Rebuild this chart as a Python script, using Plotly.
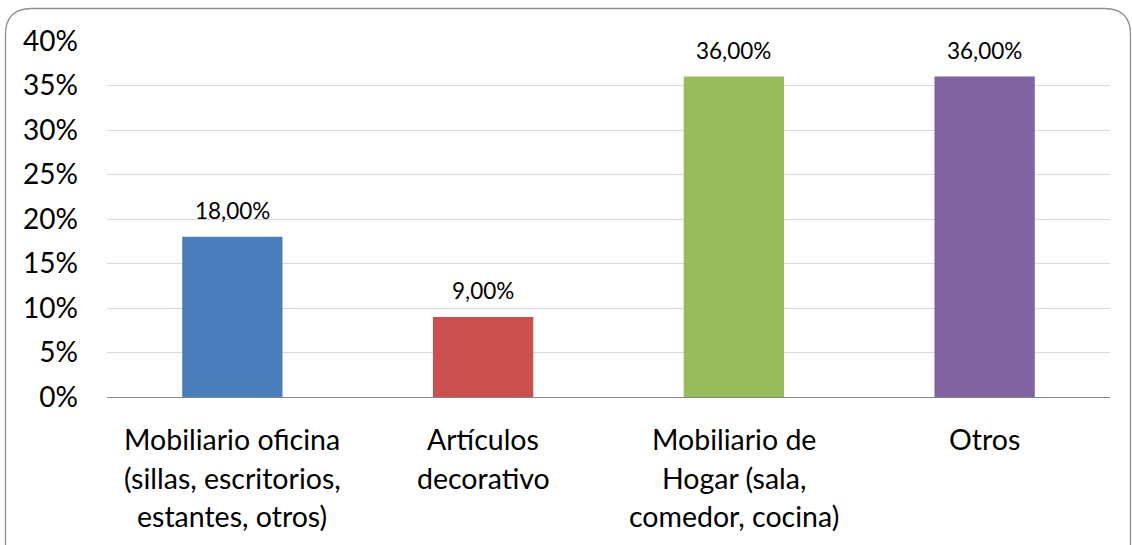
import plotly.graph_objects as go

# Chart data
categories = [
    "Mobiliario oficina<br>(sillas, escritorios,<br>estantes, otros)",
    "Artículos<br>decorativo",
    "Mobiliario de<br>Hogar (sala,<br>comedor, cocina)",
    "Otros",
]
shares = [0.18, 0.09, 0.36, 0.36]
bar_colors = ["#4A7EBB", "#C9504D", "#98BB5B", "#8064A1"]
y_ticks = [0, 0.05, 0.10, 0.15, 0.20, 0.25, 0.30, 0.35, 0.40]

FONT = "Lato"
W, H = 1132, 545
M_L, M_R, M_T, M_B = 107, 22, 41, 148

x_pos = list(range(len(categories)))

fig = go.Figure()
fig.add_trace(go.Bar(
    x=x_pos,
    y=shares,
    marker=dict(color=bar_colors, line=dict(width=0)),
    width=0.4,
    hoverinfo="skip",
))

annotations = []
# value labels above the bars
for xi, v in zip(x_pos, shares):
    annotations.append(dict(
        x=xi, y=v, xref="x", yref="y",
        text=f"{v * 100:.2f}%".replace(".", ","),
        showarrow=False, yanchor="bottom", yshift=11,
        font=dict(family=FONT, size=22.5, color="#000000"),
    ))

# category labels, one annotation per line for Excel-like line spacing
line_step = 38.5
for xi, cat in zip(x_pos, categories):
    for k, line in enumerate(cat.split("<br>")):
        annotations.append(dict(
            x=xi, y=0, xref="x", yref="paper",
            text=line, showarrow=False, yanchor="middle",
            yshift=-42 - k * line_step,
            font=dict(family=FONT, size=28.5, color="#000000"),
        ))

# rounded outer frame, expressed in paper units of the plot area
pw = W - M_L - M_R
ph = H - M_T - M_B
def px(x):
    return (x - M_L) / pw
def py(y):
    return 1 - (y - M_T) / ph
x0, x1, y0, y1, r = 5.5, 1130.5, 8.5, 575, 26
path = (
    f"M {px(x0 + r)},{py(y0)} L {px(x1 - r)},{py(y0)} "
    f"Q {px(x1)},{py(y0)} {px(x1)},{py(y0 + r)} "
    f"L {px(x1)},{py(y1 - r)} Q {px(x1)},{py(y1)} {px(x1 - r)},{py(y1)} "
    f"L {px(x0 + r)},{py(y1)} Q {px(x0)},{py(y1)} {px(x0)},{py(y1 - r)} "
    f"L {px(x0)},{py(y0 + r)} Q {px(x0)},{py(y0)} {px(x0 + r)},{py(y0)} Z"
)

fig.update_layout(
    width=W, height=H,
    margin=dict(l=M_L, r=M_R, t=M_T, b=M_B),
    paper_bgcolor="#FFFFFF",
    plot_bgcolor="#FFFFFF",
    showlegend=False,
    separators=",.",
    font=dict(family=FONT, color="#000000"),
    annotations=annotations,
    shapes=[dict(type="path", path=path, xref="paper", yref="paper",
                 line=dict(color="#8C8C8C", width=1.3), layer="below")],
    xaxis=dict(
        range=[-0.5, len(categories) - 0.5],
        showticklabels=False, showgrid=False, zeroline=False,
        showline=True, linecolor="#868686", linewidth=1.3,
        ticks="", fixedrange=True,
    ),
    yaxis=dict(
        range=[0, 0.40],
        tickvals=y_ticks,
        tickformat=".0%",
        tickfont=dict(family=FONT, size=28, color="#000000"),
        showgrid=True, gridcolor="#D9D9D9", gridwidth=1,
        zeroline=False, showline=False, ticks="",
        ticklabelstandoff=28,
        fixedrange=True,
    ),
)

fig.write_html("out.html", config={"displayModeBar": False})
